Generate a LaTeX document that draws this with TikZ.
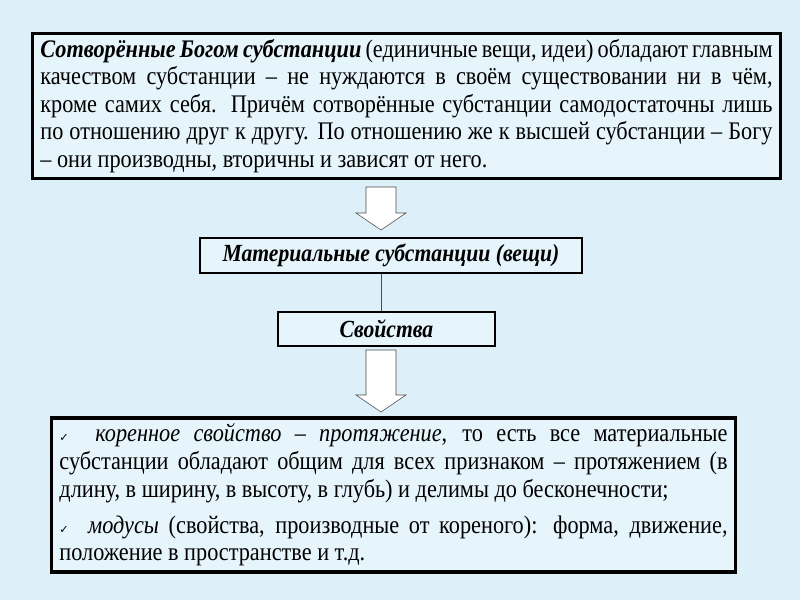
\documentclass[tikz,border=0pt]{standalone}
\usepackage{fontspec}
\setmainfont{Liberation Serif}[FakeStretch=0.88]
\newfontfamily\symfont{DejaVu Sans}
\usetikzlibrary{positioning}
\definecolor{bgblue}{HTML}{DDEFF9}
\definecolor{boxblue}{HTML}{E6F4FC}
\newcommand{\chk}{{\symfont\footnotesize ✓}}
\newcommand{\downarrowshape}[3]{% x, top y, bottom y
  \draw[black!70,fill=white] (#1-15,#2) -- (#1+15,#2) -- (#1+15,#3-17) -- (#1+25,#3-17)
    -- (#1,#3) -- (#1-25,#3-17) -- (#1-15,#3-17) -- cycle;}
\begin{document}
\begin{tikzpicture}[x=0.025cm,y=-0.025cm]
  \tikzstyle{bigbox}=[rectangle,line width=2.2pt,draw=black,fill=boxblue,text=black,inner sep=4pt,font=\fontsize{18}{19.6}\selectfont,align=justify]
  \tikzstyle{smallbox}=[rectangle,line width=1.4pt,draw=black,fill=boxblue,text=black,font=\fontsize{17.5}{19}\selectfont\bfseries\itshape]
  \fill[bgblue] (0,0) rectangle (800,600);
  \useasboundingbox (0,0) rectangle (800,600);

  \node[bigbox,minimum width=18.68cm,minimum height=3.55cm,text width=18.3cm] (top) at (406.5,106)
    {\textbf{\textit{Сотворённые Богом субстанции}} (единичные вещи, идеи) обладают главным качеством субстанции – не нуждаются в своём существовании ни в чём, кроме самих себя. Причём сотворённые субстанции самодостаточны лишь по отношению друг к другу. По отношению же к высшей субстанции – Богу – они производны, вторичны и зависят от него.};
  \downarrowshape{381}{187}{230}
  \node[smallbox,minimum width=9.55cm,minimum height=0.875cm] (mat) at (391,255.5) {Материальные субстанции (вещи)};
  \node[smallbox,minimum width=5.4cm,minimum height=0.85cm] (prop) at (386.5,329) {Свойства};
  \downarrowshape{381}{350}{412}
  \node[bigbox,minimum width=17.08cm,minimum height=3.85cm,text width=16.7cm] (bot) at (393.5,495)
    {\chk\ \ \textit{коренное свойство – протяжение}, то есть все материальные субстанции обладают общим для всех признаком – протяжением (в длину, в ширину, в высоту, в глубь) и делимы до бесконечности;\par\vspace{6pt}
     \chk\ \ \textit{модусы} (свойства, производные от кореного): форма, движение, положение в пространстве и т.д.};

  \draw[black!70,thin] (mat.south -| 381,0) -- (prop.north -| 381,0);
\end{tikzpicture}
\end{document}
